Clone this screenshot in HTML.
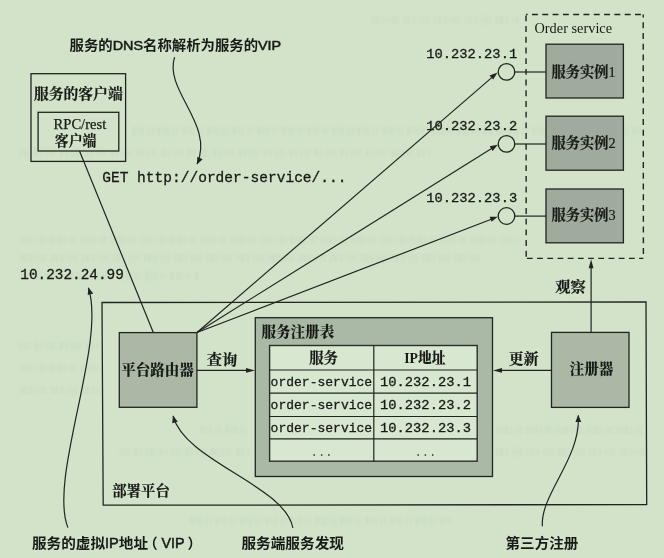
<!DOCTYPE html>
<html lang="zh-CN">
<head>
<meta charset="utf-8">
<title>服务端服务发现与第三方注册</title>
<style>
html,body{margin:0;padding:0;background:#d2e3c9;}
body{width:664px;height:558px;overflow:hidden;position:relative;}
svg{position:absolute;left:0;top:0;display:block;filter:blur(0.45px);}
.ln{stroke:#222421;stroke-width:1.2;fill:none;}
.bx{stroke:#222421;stroke-width:1.3;fill:none;}
.gbx{stroke:#222421;stroke-width:1.3;fill:#9fab9c;}
.ah{fill:#222421;stroke:none;}
text{fill:#181a17;}
.hei{font-family:"Liberation Sans","Noto Sans CJK SC",sans-serif;font-weight:700;font-size:13.5px;}
.lat{font-weight:400;stroke:#181a17;stroke-width:0.5px;}
.song{font-family:"Liberation Serif","Noto Serif CJK SC",serif;font-weight:700;font-size:14.3px;stroke:#181a17;stroke-width:0.2px;}
.songb{font-family:"Liberation Serif","Noto Serif CJK SC",serif;font-weight:900;font-size:14.3px;}
.ser{font-family:"Liberation Serif","Noto Serif CJK SC",serif;font-size:14.2px;}
.mono{font-family:"Liberation Mono","Noto Sans CJK SC",monospace;font-size:13.6px;stroke:#181a17;stroke-width:0.3px;}
</style>
</head>
<body>
<svg width="664" height="558" viewBox="0 0 664 558">
  <!-- faint show-through from the reverse side of the scanned page -->
  <g stroke="#bccdb3" stroke-width="8" fill="none" opacity="0.22" style="filter:blur(0.9px)">
    <line x1="372" y1="20" x2="520" y2="20" stroke-dasharray="2 1.5 4 2 3 3.5 1.5 2 3 1.5 2 5"/>
    <line x1="132" y1="131" x2="640" y2="131" stroke-dasharray="4 2 1.5 1.5 3 3.5 2 2 1.5 4"/>
    <line x1="20" y1="153" x2="430" y2="153" stroke-dasharray="2 2 3 1.5 1.5 4 4 2 2 3.5"/>
    <line x1="20" y1="240" x2="520" y2="240" stroke-dasharray="3 2 2 1.5 4 2 1.5 3.5 3 1.5 2 4"/>
    <line x1="20" y1="258" x2="480" y2="258" stroke-dasharray="2 1.5 4 2 3 3.5 1.5 2 3 1.5 2 5"/>
    <line x1="20" y1="276" x2="200" y2="276" stroke-dasharray="4 2 1.5 1.5 3 3.5 2 2 1.5 4"/>
    <line x1="20" y1="346" x2="100" y2="346" stroke-dasharray="2 2 3 1.5 1.5 4 4 2 2 3.5"/>
    <line x1="20" y1="368" x2="100" y2="368" stroke-dasharray="3 2 2 1.5 4 2 1.5 3.5 3 1.5 2 4"/>
    <line x1="20" y1="390" x2="100" y2="390" stroke-dasharray="2 1.5 4 2 3 3.5 1.5 2 3 1.5 2 5"/>
    <line x1="200" y1="430" x2="250" y2="430" stroke-dasharray="4 2 1.5 1.5 3 3.5 2 2 1.5 4"/>
    <line x1="120" y1="452" x2="250" y2="452" stroke-dasharray="2 2 3 1.5 1.5 4 4 2 2 3.5"/>
    <line x1="496" y1="430" x2="645" y2="430" stroke-dasharray="3 2 2 1.5 4 2 1.5 3.5 3 1.5 2 4"/>
    <line x1="496" y1="452" x2="645" y2="452" stroke-dasharray="2 1.5 4 2 3 3.5 1.5 2 3 1.5 2 5"/>
    <line x1="190" y1="521" x2="450" y2="521" stroke-dasharray="4 2 1.5 1.5 3 3.5 2 2 1.5 4"/>
  </g>
  <!-- platform box -->
  <polygon class="bx" points="102,302.5 646,301.9 646.7,504.6 103.2,505.2"/>

  <!-- client box -->
  <rect class="bx" x="31" y="73.7" width="94.6" height="87.7"/>
  <rect class="bx" x="38.1" y="112.3" width="80.7" height="38.7"/>
  <text class="song" x="33.9" y="98.6" textLength="88.8" lengthAdjust="spacingAndGlyphs">服务的客户端</text>
  <text class="ser" style="stroke:#181a17;stroke-width:0.25px" x="53.6" y="128.8" textLength="52.6" lengthAdjust="spacingAndGlyphs">RPC/rest</text>
  <text class="song" x="54.8" y="146" textLength="41.6" lengthAdjust="spacingAndGlyphs">客户端</text>

  <!-- title -->
  <text class="hei" x="69.6" y="49.6" textLength="211.6" lengthAdjust="spacingAndGlyphs">服务的<tspan class="lat">DNS</tspan>名称解析为服务的<tspan class="lat">VIP</tspan></text>
  <path class="ln" d="M174.6,57.1 C163.6,90.4 214.9,124.7 197.0,164.0"/>
  <polygon class="ah" points="197.0,164.6 197.3,156.8 202.6,159.2"/>

  <!-- GET -->
  <text class="mono" style="font-size:14.3px" x="102.2" y="182.4" textLength="244.3" lengthAdjust="spacingAndGlyphs">GET http://order-service/...</text>
  <text class="mono" style="font-size:14.3px" x="20.3" y="279.4" textLength="103.6" lengthAdjust="spacingAndGlyphs">10.232.24.99</text>

  <!-- client to router -->
  <line class="ln" x1="79.5" y1="151" x2="153.3" y2="332.5"/>

  <!-- fan-out lines -->
  <line class="ln" x1="197" y1="332.5" x2="492" y2="77.4"/>
  <line class="ln" x1="197" y1="332.5" x2="492" y2="148.3"/>
  <line class="ln" x1="197" y1="332.5" x2="492" y2="219"/>
  <polygon class="ah" points="497.6,72.6 493.2,79.6 489.5,75.4"/>
  <polygon class="ah" points="497.8,144.7 492.6,151 489.7,146.3"/>
  <polygon class="ah" points="497.8,216.8 491.6,221.8 489.6,216.7"/>

  <!-- order service dashed -->
  <g class="bx" style="stroke-width:1.4">
    <line x1="526" y1="14.5" x2="643.3" y2="14.5" stroke-dasharray="5.9 4.4" stroke-dashoffset="4.3"/>
    <line x1="526" y1="258.4" x2="643.3" y2="258.4" stroke-dasharray="5.8 4.4" stroke-dashoffset="9.3"/>
    <line x1="526" y1="14.5" x2="526.2" y2="258.4" stroke-dasharray="5.9 4.8" stroke-dashoffset="9.8"/>
    <line x1="643.2" y1="14.5" x2="643.4" y2="258.4" stroke-dasharray="5.9 4.85" stroke-dashoffset="2.9"/>
  </g>
  <text class="ser" x="534.5" y="32.7" textLength="77.6" lengthAdjust="spacingAndGlyphs">Order service</text>

  <!-- instances -->
  <line class="ln" x1="514.5" y1="72" x2="546" y2="72"/>
  <line class="ln" x1="514.5" y1="144" x2="546" y2="144"/>
  <line class="ln" x1="514.5" y1="216.1" x2="546" y2="216.1"/>
  <circle class="bx" cx="506.5" cy="71.9" r="8.3"/>
  <circle class="bx" cx="506.5" cy="143.9" r="8.3"/>
  <circle class="bx" cx="506.5" cy="216" r="8.3"/>
  <rect class="gbx" x="546" y="44.2" width="77.4" height="53.8"/>
  <rect class="gbx" x="546" y="116.2" width="77.4" height="54"/>
  <rect class="gbx" x="546" y="189" width="77.4" height="53.8"/>
  <text class="song" x="551.6" y="76.5" textLength="64" lengthAdjust="spacingAndGlyphs">服务实例<tspan font-weight="400">1</tspan></text>
  <text class="song" x="551.6" y="148.3" textLength="64" lengthAdjust="spacingAndGlyphs">服务实例<tspan font-weight="400">2</tspan></text>
  <text class="song" x="551.6" y="220.3" textLength="64" lengthAdjust="spacingAndGlyphs">服务实例<tspan font-weight="400">3</tspan></text>
  <text class="mono" x="426.2" y="58.3" textLength="91" lengthAdjust="spacingAndGlyphs">10.232.23.1</text>
  <text class="mono" x="426.2" y="130.3" textLength="91" lengthAdjust="spacingAndGlyphs">10.232.23.2</text>
  <text class="mono" x="426.2" y="202.4" textLength="91" lengthAdjust="spacingAndGlyphs">10.232.23.3</text>

  <!-- router -->
  <rect class="gbx" x="119.3" y="332.6" width="77.6" height="74.7" style="fill:#aab8a5"/>
  <text class="songb" x="121.2" y="374.6" textLength="72.6" lengthAdjust="spacingAndGlyphs">平台路由器</text>
  <line class="ln" x1="197" y1="370.4" x2="248" y2="370.4"/>
  <polygon class="ah" points="255,370.4 246,368 246,372.8"/>
  <text class="song" x="206.8" y="364.8" textLength="30.4" lengthAdjust="spacingAndGlyphs">查询</text>

  <!-- registry -->
  <rect class="gbx" x="255.3" y="317.7" width="237.2" height="158.8" style="fill:#aab9a5"/>
  <text class="songb" x="261.4" y="337" textLength="72.8" lengthAdjust="spacingAndGlyphs">服务注册表</text>
  <rect x="269.6" y="345.5" width="207.6" height="115.7" fill="#d8e7d0" stroke="#2b2d2a" stroke-width="1.4"/>
  <line class="ln" x1="373.8" y1="345.5" x2="373.8" y2="461.2"/>
  <line class="ln" x1="269.5" y1="370" x2="477" y2="370"/>
  <line class="ln" x1="269.5" y1="393.2" x2="477" y2="393.2"/>
  <line class="ln" x1="269.5" y1="416.5" x2="477" y2="416.5"/>
  <line class="ln" x1="269.5" y1="438.8" x2="477" y2="438.8"/>
  <text class="song" x="309.2" y="363.4" textLength="28.8" lengthAdjust="spacingAndGlyphs">服务</text>
  <text class="songb" x="404.2" y="363.4" textLength="41.2" lengthAdjust="spacingAndGlyphs">IP地址</text>
  <text class="mono" x="270.6" y="385.5" textLength="101.6" lengthAdjust="spacingAndGlyphs">order-service</text>
  <text class="mono" x="270.6" y="408.7" textLength="101.6" lengthAdjust="spacingAndGlyphs">order-service</text>
  <text class="mono" x="270.6" y="431.8" textLength="101.6" lengthAdjust="spacingAndGlyphs">order-service</text>
  <text class="mono" x="380" y="385.5" textLength="91" lengthAdjust="spacingAndGlyphs">10.232.23.1</text>
  <text class="mono" x="380" y="408.7" textLength="91" lengthAdjust="spacingAndGlyphs">10.232.23.2</text>
  <text class="mono" x="380" y="431.8" textLength="91" lengthAdjust="spacingAndGlyphs">10.232.23.3</text>
  <text class="mono" x="310.6" y="455.6" textLength="22" lengthAdjust="spacingAndGlyphs" style="fill:#4a4d49;stroke:none;font-size:13px">...</text>
  <text class="mono" x="414.4" y="455.6" textLength="22" lengthAdjust="spacingAndGlyphs" style="fill:#4a4d49;stroke:none;font-size:13px">...</text>

  <!-- registrar -->
  <rect class="gbx" x="551.5" y="332.4" width="77.5" height="75" style="fill:#aab8a5"/>
  <text class="songb" x="569.6" y="374" textLength="43.8" lengthAdjust="spacingAndGlyphs">注册器</text>
  <line class="ln" x1="551.5" y1="370.4" x2="500" y2="370.4"/>
  <polygon class="ah" points="493,370.4 502,368 502,372.8"/>
  <text class="song" x="508.8" y="364.2" textLength="29.8" lengthAdjust="spacingAndGlyphs">更新</text>
  <line class="ln" x1="591.1" y1="332.4" x2="591.1" y2="266"/>
  <polygon class="ah" points="591.1,259.2 588.7,268.2 593.5,268.2"/>
  <text class="song" x="555.2" y="291.6" textLength="30.4" lengthAdjust="spacingAndGlyphs">观察</text>

  <!-- platform label -->
  <text class="song" x="112.2" y="496.4" textLength="57.6" lengthAdjust="spacingAndGlyphs">部署平台</text>

  <!-- bottom labels & curves -->
  <text class="hei" x="32" y="548.2" textLength="116" lengthAdjust="spacingAndGlyphs" style="font-size:14.2px">服务的虚拟<tspan class="lat">IP</tspan>地址</text>
  <text class="hei" x="143.4" y="548.2" style="font-size:14.2px">（</text><text class="hei lat" x="161.6" y="548.2" textLength="23" lengthAdjust="spacingAndGlyphs" style="font-size:14.2px">VIP</text><text class="hei" x="187.6" y="548.2" style="font-size:14.2px">）</text>
  <path class="ln" d="M67.9,527.6 C48.1,478.1 106.6,343.4 88.4,287.7"/>
  <polygon class="ah" points="88.4,287.4 93.3,293.5 87.7,295.1"/>

  <text class="hei" x="241.4" y="547.8" textLength="102.6" lengthAdjust="spacingAndGlyphs" style="font-size:14px">服务端服务发现</text>
  <path class="ln" d="M292.9,528.0 C285.3,485.5 184.9,461.6 173.0,415.9"/>
  <polygon class="ah" points="173.0,415.6 177.8,421.7 172.2,423.3"/>

  <text class="hei" x="505.6" y="547.6" textLength="72.6" lengthAdjust="spacingAndGlyphs" style="font-size:14px">第三方注册</text>
  <path class="ln" d="M542.4,526.3 C539.9,494.6 581.1,458.1 578.3,415.5"/>
  <polygon class="ah" points="578.3,414.8 581.2,422.0 575.4,422.0"/>
</svg>
</body>
</html>
